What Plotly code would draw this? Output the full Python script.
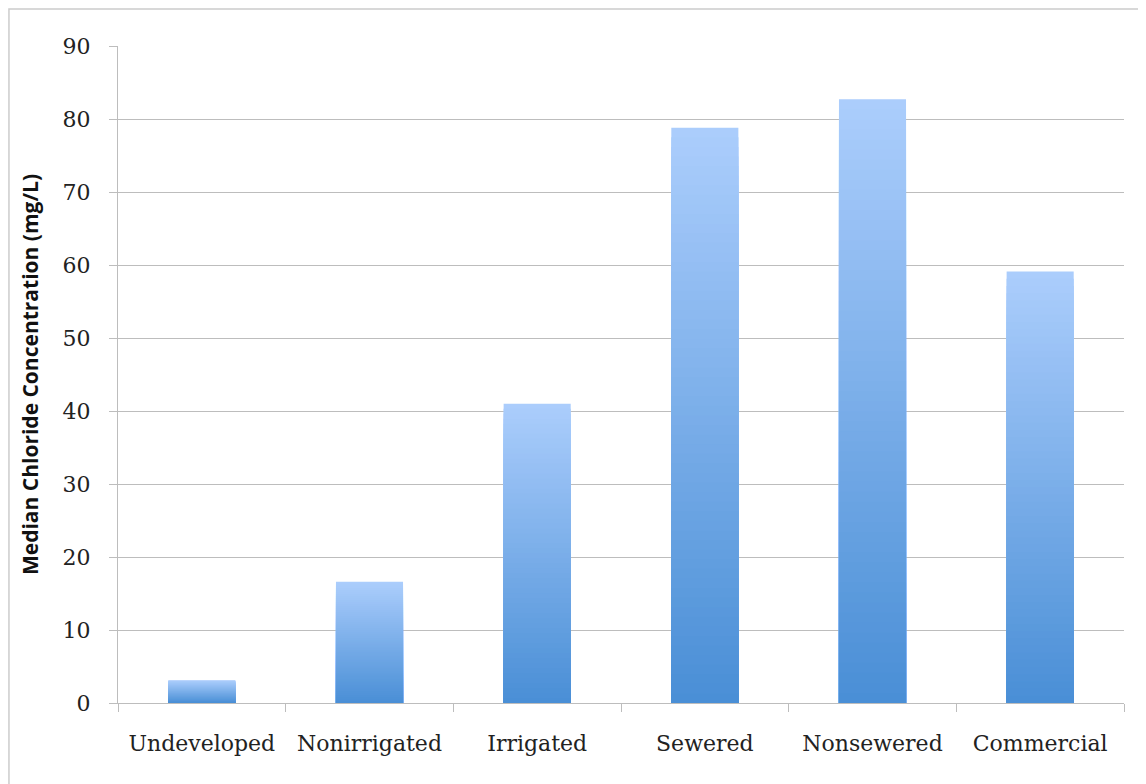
import plotly.graph_objects as go

# land-use categories and median chloride values (mg/L)
categories = ["Undeveloped", "Nonirrigated", "Irrigated", "Sewered", "Nonsewered", "Commercial"]
median_chloride = [3.1, 16.6, 41.0, 78.8, 82.7, 59.1]
y_ticks = [0, 10, 20, 30, 40, 50, 60, 70, 80, 90]

# gradient ends: light at the top of each bar, darker at the base
TOP_RGB = (171, 205, 252)
BOTTOM_RGB = (74, 143, 214)
N_LAYERS = 60

GRID = "#bdbdbd"
TICK_FONT = dict(family="DejaVu Serif", size=22, color="#222222")

fig = go.Figure()

# plotly bars have no gradient fill, so stack shorter, darker bars on top
for k in range(N_LAYERS):
    frac = k / (N_LAYERS - 1)
    rgb = tuple(round(t + (b - t) * frac) for t, b in zip(TOP_RGB, BOTTOM_RGB))
    scale = 1 - k / N_LAYERS
    fig.add_trace(go.Bar(
        x=categories,
        y=[v * scale for v in median_chloride],
        marker=dict(color="rgb(%d,%d,%d)" % rgb, line=dict(width=0)),
        width=0.4,
        showlegend=False,
        hoverinfo="skip" if k else "x+y",
    ))

# the page body has an 8px margin, so the figure is a little smaller
fig.update_layout(
    barmode="overlay",
    width=1138,
    height=776,
    margin=dict(l=110, r=22, t=38, b=81),
    plot_bgcolor="white",
    paper_bgcolor="white",
    showlegend=False,
)

fig.update_xaxes(
    showgrid=False,
    showline=True,
    linecolor=GRID,
    linewidth=1,
    ticks="outside",
    tickson="boundaries",
    ticklen=8,
    tickcolor=GRID,
    tickfont=TICK_FONT,
    ticklabelstandoff=21,
)

fig.update_yaxes(
    range=[0, 90],
    tickvals=y_ticks,
    showgrid=True,
    gridcolor=GRID,
    gridwidth=1,
    showline=True,
    linecolor=GRID,
    linewidth=1,
    ticks="outside",
    ticklen=8,
    tickcolor=GRID,
    tickfont=TICK_FONT,
    ticklabelstandoff=14,
    zeroline=False,
    title=dict(
        text="Median Chloride Concentration (mg/L)",
        font=dict(family="Open Sans", size=21, color="#111111", weight="bold"),
        standoff=18,
    ),
)

# thin frame round the whole chart (only the top and left edges show)
fig.add_shape(
    type="rect", xref="paper", yref="paper",
    x0=-0.1084, x1=1.2, y0=-0.2, y1=1.0564,
    line=dict(color="#cccccc", width=1.5),
    fillcolor="rgba(0,0,0,0)",
    layer="below",
)

fig.write_html("out.html")
